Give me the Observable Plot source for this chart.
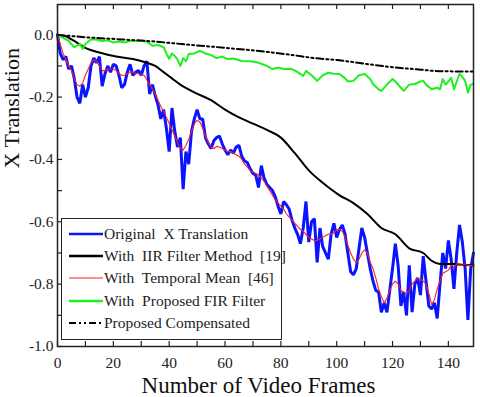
<!DOCTYPE html>
<html>
<head>
<meta charset="utf-8">
<script src="https://cdn.jsdelivr.net/npm/d3@7"></script>
<script src="https://cdn.jsdelivr.net/npm/@observablehq/plot@0.6"></script>
<style>
  html, body { margin: 0; padding: 0; background: #fff; }
  #wrap { position: relative; width: 480px; height: 397px; font-family: "Times New Roman", "Liberation Serif", serif; }
  #legend { position: absolute; left: 61px; top: 218px; width: 219px; height: 120px; border: 1.5px solid #222; background: #fff; }
  .row { position: absolute; left: 0; height: 20px; width: 219px; }
  .row svg { position: absolute; left: 6px; top: 0; }
  .row span { position: absolute; left: 42px; top: 0; line-height: 20px; font-size: 15.5px; color: #222; white-space: pre; font-family: "Times New Roman", "Liberation Serif", serif; }
</style>
</head>
<body>
<div id="wrap"></div>
<script>
// ---- data ----
const frames = d3.range(150);
const original = [
  0, -0.06, -0.08, -0.07, -0.11, -0.10, -0.14, -0.20, -0.22, -0.16,
  -0.20, -0.17, -0.10, -0.075, -0.09, -0.07, -0.165, -0.125, -0.10, -0.12,
  -0.095, -0.10, -0.13, -0.17, -0.16, -0.12, -0.095, -0.13, -0.12, -0.115,
  -0.13, -0.10, -0.085, -0.19, -0.16, -0.195, -0.225, -0.27, -0.24, -0.30,
  -0.375, -0.235, -0.31, -0.36, -0.33, -0.495, -0.375, -0.415, -0.31, -0.27,
  -0.24, -0.27, -0.27, -0.33, -0.35, -0.365, -0.34, -0.33, -0.325, -0.35,
  -0.37, -0.385, -0.37, -0.38, -0.36, -0.355, -0.39, -0.405, -0.41, -0.43,
  -0.445, -0.45, -0.49, -0.42, -0.46, -0.48, -0.49, -0.50, -0.52, -0.55,
  -0.575, -0.535, -0.545, -0.56, -0.595, -0.62, -0.64, -0.67, -0.62, -0.535,
  -0.665, -0.60, -0.59, -0.73, -0.62, -0.68, -0.70, -0.72, -0.64, -0.605,
  -0.65, -0.625, -0.61, -0.64, -0.70, -0.76, -0.77, -0.75, -0.685, -0.62,
  -0.65, -0.70, -0.75, -0.79, -0.82, -0.825, -0.89, -0.86, -0.89, -0.82,
  -0.75, -0.67, -0.74, -0.87, -0.825, -0.90, -0.74, -0.89, -0.80, -0.78,
  -0.835, -0.71, -0.79, -0.87, -0.88, -0.86, -0.91, -0.80, -0.70, -0.75,
  -0.66, -0.72, -0.815, -0.70, -0.61, -0.665, -0.75, -0.915, -0.75, -0.70
];
const temporalMean = [
  0, -0.03, -0.06, -0.08, -0.10, -0.115, -0.14, -0.16, -0.165, -0.155,
  -0.13, -0.11, -0.09, -0.08, -0.085, -0.10, -0.115, -0.115, -0.11, -0.11,
  -0.11, -0.115, -0.125, -0.13, -0.13, -0.125, -0.12, -0.12, -0.125, -0.125,
  -0.127, -0.13, -0.145, -0.16, -0.175, -0.19, -0.21, -0.23, -0.245, -0.265,
  -0.285, -0.305, -0.325, -0.345, -0.365, -0.37, -0.355, -0.335, -0.31, -0.285,
  -0.275, -0.28, -0.30, -0.325, -0.345, -0.36, -0.365, -0.358, -0.36, -0.365,
  -0.37, -0.375, -0.375, -0.38, -0.385, -0.39, -0.40, -0.415, -0.425, -0.435,
  -0.44, -0.445, -0.45, -0.46, -0.47, -0.485, -0.50, -0.515, -0.53, -0.54,
  -0.55, -0.56, -0.575, -0.585, -0.595, -0.605, -0.615, -0.625, -0.63, -0.64,
  -0.65, -0.655, -0.66, -0.66, -0.655, -0.65, -0.645, -0.64, -0.64, -0.635,
  -0.625, -0.625, -0.63, -0.65, -0.675, -0.70, -0.72, -0.73, -0.72, -0.70,
  -0.69, -0.70, -0.73, -0.75, -0.78, -0.815, -0.84, -0.86, -0.845, -0.82,
  -0.80, -0.79, -0.80, -0.82, -0.825, -0.83, -0.82, -0.80, -0.79, -0.78,
  -0.785, -0.79, -0.80, -0.83, -0.865, -0.85, -0.815, -0.79, -0.765, -0.76,
  -0.755, -0.74, -0.745, -0.735, -0.735, -0.74, -0.735, -0.74, -0.74, -0.74
];
const iirFrames = [0, 3, 6, 10, 15, 21, 27, 32, 35, 38, 41, 44, 49, 55, 60, 65, 70, 75, 80, 85, 90, 95, 101, 106, 111, 116, 121, 126, 131, 134, 137, 142, 145, 149];
const iirValues = [0, -0.005, -0.02, -0.042, -0.057, -0.07, -0.078, -0.09, -0.10, -0.12, -0.14, -0.16, -0.185, -0.21, -0.24, -0.265, -0.285, -0.305, -0.33, -0.38, -0.435, -0.475, -0.515, -0.54, -0.575, -0.62, -0.64, -0.685, -0.70, -0.725, -0.735, -0.735, -0.738, -0.74];
const firFrames = [0, 2, 4, 6, 7, 8, 9, 10, 12, 14, 16, 18, 20, 22, 24, 26, 28, 30, 32, 34, 36, 38, 39, 40, 41, 42, 43, 44, 45, 46, 47, 49, 51, 53, 55, 57, 59, 61, 63, 66, 69, 72, 75, 77, 79, 81, 84, 86, 88, 89, 91, 93, 95, 97, 99, 101, 103, 104, 106, 108, 110, 112, 113, 115, 116, 118, 120, 121, 123, 124, 126, 128, 130, 131, 132, 134, 136, 137, 138, 139, 140, 141, 142, 143, 144, 145, 146, 147, 148, 149];
const firValues = [0, -0.01, -0.02, -0.04, -0.035, -0.03, -0.045, -0.03, -0.015, -0.015, -0.02, -0.018, -0.025, -0.022, -0.025, -0.02, -0.02, -0.02, -0.022, -0.035, -0.033, -0.04, -0.06, -0.077, -0.06, -0.068, -0.08, -0.10, -0.075, -0.085, -0.062, -0.06, -0.052, -0.06, -0.065, -0.075, -0.07, -0.078, -0.076, -0.084, -0.085, -0.09, -0.10, -0.11, -0.105, -0.11, -0.11, -0.12, -0.132, -0.116, -0.13, -0.148, -0.13, -0.122, -0.125, -0.126, -0.14, -0.15, -0.148, -0.13, -0.126, -0.142, -0.158, -0.175, -0.18, -0.16, -0.142, -0.15, -0.17, -0.18, -0.16, -0.158, -0.15, -0.148, -0.16, -0.175, -0.17, -0.175, -0.142, -0.16, -0.15, -0.138, -0.175, -0.15, -0.126, -0.135, -0.148, -0.185, -0.16, -0.158];
const compFrames = [0, 10, 23, 35, 47, 60, 75, 84, 92, 101, 110, 120, 130, 137, 149];
const compValues = [0, -0.008, -0.015, -0.022, -0.032, -0.042, -0.055, -0.065, -0.075, -0.082, -0.093, -0.104, -0.112, -0.117, -0.118];

const xLabelTicks = [0, 20, 40, 60, 80, 100, 120, 140];
const xMinorTicks = d3.range(0, 150, 10);
const yLabelTicks = [0, -0.2, -0.4, -0.6, -0.8, -1.0];
const yMinorTicks = [0, -0.1, -0.2, -0.3, -0.4, -0.5, -0.6, -0.7, -0.8, -0.9, -1.0];

const seriesNames = ["Original  X Translation", "With  IIR Filter Method  [19]", "With  Temporal Mean  [46]", "With  Proposed FIR Filter", "Proposed Compensated"];
const seriesColors = ["#0a14ff", "#000000", "#ff2020", "#1ef01e", "#000000"];
const xTitle = "Number of Video Frames";
const yTitle = "X Translation";

// ---- chart ----
const W = 480, H = 397, mt = 4, mr = 7, mb = 51, ml = 57;
const innerW = W - ml - mr, innerH = H - mt - mb;
const font = "Times New Roman, Liberation Serif, serif";

const chart = Plot.plot({
  width: W, height: H,
  marginTop: mt, marginRight: mr, marginBottom: mb, marginLeft: ml,
  style: { fontFamily: font, fontSize: "15px", color: "#222", background: "#fff" },
  x: { domain: [0, 149] },
  y: { domain: [-1.0, 0.097] },
  marks: [
    Plot.line(original, { x: (d, i) => frames[i], y: d => d, stroke: seriesColors[0], strokeWidth: 3, strokeLinejoin: "miter" }),
    Plot.line(iirValues, { x: (d, i) => iirFrames[i], y: d => d, stroke: seriesColors[1], strokeWidth: 2, curve: "monotone-x" }),
    Plot.line(temporalMean, { x: (d, i) => frames[i], y: d => d, stroke: seriesColors[2], strokeWidth: 1.1 }),
    Plot.line(firValues, { x: (d, i) => firFrames[i], y: d => d, stroke: seriesColors[3], strokeWidth: 2 }),
    Plot.line(compValues, { x: (d, i) => compFrames[i], y: d => d, stroke: seriesColors[4], strokeWidth: 2, strokeDasharray: "7,3,2,3,2,3", curve: "monotone-x" }),
    Plot.tickX(xMinorTicks, { x: d => d, insetTop: innerH - 5, stroke: "#222", strokeWidth: 1.2 }),
    Plot.tickX(xMinorTicks, { x: d => d, insetBottom: innerH - 5, stroke: "#222", strokeWidth: 1.2 }),
    Plot.tickY(yMinorTicks, { y: d => d, insetRight: innerW - 5, stroke: "#222", strokeWidth: 1.2 }),
    Plot.frame({ stroke: "#222", strokeWidth: 1.5 }),
    Plot.axisX({ ticks: xLabelTicks, tickSize: 0, tickPadding: 10, tickFormat: d => String(d), label: null, fontSize: 15.5, fontFamily: font, fill: "#222" }),
    Plot.axisY({ ticks: yLabelTicks, tickSize: 0, tickPadding: 4, tickFormat: d => d.toFixed(1), label: null, fontSize: 15.5, fontFamily: font, fill: "#222" }),
    Plot.text([xTitle], { text: d => d, frameAnchor: "bottom", dy: 46, dx: -7, fontSize: 23, fontFamily: font, fill: "#111" }),
    Plot.text([yTitle], { text: d => d, frameAnchor: "left", dx: -46, dy: -7, rotate: -90, fontSize: 22, fontFamily: font, fill: "#111" })
  ]
});

const wrap = document.getElementById("wrap");
wrap.appendChild(chart);

// ---- legend (inside the plot area) ----
const legend = document.createElement("div");
legend.id = "legend";
const widths = [2.5, 2.5, 1.2, 2.5, 2];
seriesNames.forEach((name, i) => {
  const row = document.createElement("div");
  row.className = "row";
  row.style.top = (5 + i * 22.2) + "px";
  const dash = i === 4 ? ` stroke-dasharray="7,3,2,3,2,3"` : "";
  row.innerHTML = `<svg width="36" height="20"><line x1="1" x2="35" y1="10" y2="10" stroke="${seriesColors[i]}" stroke-width="${widths[i]}"${dash}/></svg><span>${name}</span>`;
  legend.appendChild(row);
});
wrap.appendChild(legend);
</script>
</body>
</html>
